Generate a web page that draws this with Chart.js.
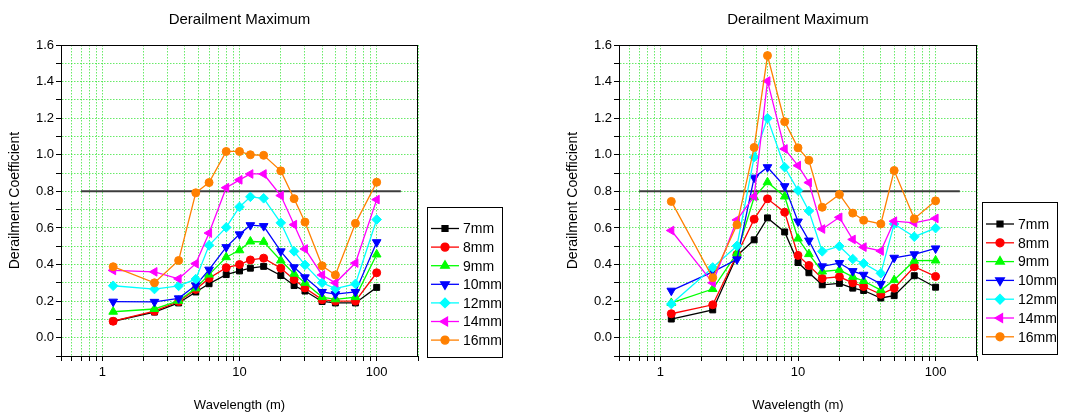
<!DOCTYPE html>
<html>
<head>
<meta charset="utf-8">
<script src="https://cdn.jsdelivr.net/npm/chart.js@4.4.1/dist/chart.umd.min.js"></script>
<style>
  html, body { margin: 0; padding: 0; background: #fff; }
  #wrap { position: relative; width: 1084px; height: 416px; }
  #left { position: absolute; left: 0; top: 0; }
  #right { position: absolute; left: 540px; top: 0; }
</style>
</head>
<body>
<div id="wrap">
  <canvas id="left" width="540" height="416"></canvas>
  <canvas id="right" width="544" height="416"></canvas>
</div>
<script>
// wavelengths (m) used by every series
const wavelengths = [1.2, 2.4, 3.6, 4.8, 6, 8, 10, 12, 15, 20, 25, 30, 40, 50, 70, 100];
const sizes = ['7mm', '8mm', '9mm', '10mm', '12mm', '14mm', '16mm'];

const xTickValues = [0.5, 0.6, 0.7, 0.8, 0.9, 1, 2, 3, 4, 5, 6, 7, 8, 9, 10,
                     20, 30, 40, 50, 60, 70, 80, 90, 100, 200];
const xTickLabels = [1, 10, 100];
const yTickValues = [-0.1, 0, 0.1, 0.2, 0.3, 0.4, 0.5, 0.6, 0.7, 0.8, 0.9,
                     1.0, 1.1, 1.2, 1.3, 1.4, 1.5, 1.6];

// limit line
const limitValue = 0.8;
const limitSpan = [0.7, 150];

// left graph
const left7  = [0.09, 0.14, 0.19, 0.25, 0.295, 0.345, 0.365, 0.38, 0.39, 0.34, 0.285, 0.255, 0.198, 0.19, 0.19, 0.275];
const left8  = [0.09, 0.145, 0.198, 0.264, 0.325, 0.383, 0.40, 0.425, 0.435, 0.38, 0.318, 0.272, 0.208, 0.20, 0.20, 0.355];
const left9  = [0.142, 0.157, 0.202, 0.27, 0.345, 0.44, 0.478, 0.526, 0.524, 0.422, 0.35, 0.30, 0.222, 0.21, 0.222, 0.455];
const left10 = [0.197, 0.196, 0.215, 0.286, 0.372, 0.495, 0.565, 0.615, 0.61, 0.472, 0.385, 0.33, 0.25, 0.238, 0.25, 0.522];
const left12 = [0.284, 0.266, 0.283, 0.32, 0.505, 0.603, 0.715, 0.77, 0.762, 0.628, 0.472, 0.398, 0.30, 0.268, 0.294, 0.646];
const left14 = [0.368, 0.36, 0.322, 0.405, 0.572, 0.82, 0.863, 0.895, 0.895, 0.777, 0.618, 0.485, 0.343, 0.30, 0.408, 0.755];
const left16 = [0.388, 0.30, 0.422, 0.792, 0.848, 1.018, 1.018, 1.0, 0.997, 0.912, 0.76, 0.632, 0.393, 0.343, 0.625, 0.85];

// right graph
const right7  = [0.102, 0.152, 0.448, 0.535, 0.655, 0.578, 0.411, 0.355, 0.289, 0.297, 0.271, 0.258, 0.217, 0.23, 0.339, 0.276];
const right8  = [0.131, 0.18, 0.455, 0.648, 0.759, 0.686, 0.45, 0.395, 0.324, 0.333, 0.30, 0.28, 0.237, 0.271, 0.388, 0.335];
const right9  = [0.19, 0.266, 0.462, 0.768, 0.85, 0.772, 0.542, 0.457, 0.362, 0.371, 0.333, 0.31, 0.26, 0.315, 0.421, 0.422];
const right10 = [0.257, 0.36, 0.428, 0.875, 0.932, 0.828, 0.635, 0.531, 0.39, 0.408, 0.364, 0.344, 0.294, 0.437, 0.456, 0.488];
const right12 = [0.184, 0.384, 0.502, 0.987, 1.2, 0.932, 0.805, 0.693, 0.472, 0.5, 0.43, 0.406, 0.352, 0.622, 0.552, 0.599];
const right14 = [0.586, 0.30, 0.644, 0.772, 1.403, 1.032, 0.941, 0.848, 0.594, 0.658, 0.537, 0.495, 0.474, 0.637, 0.628, 0.652];
const right16 = [0.745, 0.328, 0.617, 1.04, 1.542, 1.181, 1.038, 0.97, 0.713, 0.783, 0.681, 0.642, 0.622, 0.914, 0.65, 0.748];

const lineColors = ['#000000', '#ff0000', '#00ff00', '#0000ff', '#00ffff', '#ff00ff', '#ff8000'];
const markers = ['rect', 'circle', 'triangle', 'triangle', 'rectRot', 'triangle', 'circle'];
const markerTurns = [0, 0, 0, 180, 0, 270, 0];
const markerRadius = [4.2, 4, 5, 5, 4.8, 5, 4];
const gridGreen = 'rgba(40, 225, 40, 0.7)';

Chart.defaults.font.family = '"Liberation Sans", Arial, sans-serif';
Chart.defaults.color = '#000';

const frame = {
    id: 'frame',
    afterDraw(chart) {
        const { ctx, chartArea: { left, top, right, bottom } } = chart;
        const x0 = Math.round(left) + 0.5, y0 = Math.round(top) + 0.5;
        const x1 = Math.round(right) - 0.5, y1 = Math.round(bottom) + 0.5;
        ctx.save();
        ctx.strokeStyle = '#000';
        ctx.lineWidth = 1;
        ctx.strokeRect(x0, y0, x1 - x0, y1 - y0);
        ctx.restore();
    }
};

const boxLegend = {
    id: 'boxLegend',
    afterDraw(chart, args, opts) {
        const ctx = chart.ctx;
        ctx.save();
        ctx.beginPath();
        ctx.rect(opts.x, opts.y, opts.w, opts.h);
        ctx.clip();
        ctx.font = '14px "Liberation Sans", Arial, sans-serif';
        ctx.textBaseline = 'middle';
        chart.data.datasets.slice(0, sizes.length).forEach((ds, i) => {
            const y = opts.first + i * opts.step;
            ctx.strokeStyle = ds.borderColor;
            ctx.lineWidth = 1.3;
            ctx.beginPath();
            ctx.moveTo(opts.x + 4, y);
            ctx.lineTo(opts.x + 32, y);
            ctx.stroke();
            ctx.fillStyle = ds.borderColor;
            Chart.helpers.drawPoint(ctx, {
                pointStyle: ds.pointStyle, radius: ds.pointRadius,
                rotation: ds.pointRotation, borderWidth: 1
            }, opts.x + 18, y);
            ctx.fillStyle = '#000';
            ctx.fillText(ds.label, opts.x + 36, y + 1);
        });
        ctx.restore();
        ctx.save();
        ctx.strokeStyle = '#000';
        ctx.lineWidth = 1;
        ctx.strokeRect(opts.x + 0.5, opts.y + 0.5, opts.w, opts.h);
        ctx.restore();
    }
};

function axisGrid() {
    return { color: gridGreen, tickColor: '#000', tickLength: 5, tickBorderDash: [] };
}

function buildChart(id, series, pad, legendBox) {
    const datasets = series.map((vals, i) => ({
        label: sizes[i],
        data: wavelengths.map((w, k) => ({ x: w, y: vals[k] })),
        borderColor: lineColors[i],
        backgroundColor: lineColors[i],
        pointBackgroundColor: lineColors[i],
        pointBorderColor: lineColors[i],
        pointStyle: markers[i],
        pointRotation: markerTurns[i],
        pointRadius: markerRadius[i],
        pointBorderWidth: 1,
        borderWidth: 1.3,
        tension: 0,
        order: sizes.length - i
    }));
    datasets.push({
        label: 'limit',
        data: limitSpan.map(x => ({ x: x, y: limitValue })),
        borderColor: '#3c3c3c',
        borderWidth: 2,
        pointRadius: 0,
        order: 99
    });

    return new Chart(document.getElementById(id), {
        type: 'line',
        data: { datasets: datasets },
        options: {
            responsive: false,
            animation: false,
            layout: { padding: { left: pad.left, right: pad.right, top: 0, bottom: 0 } },
            plugins: {
                legend: { display: false },
                tooltip: { enabled: false },
                title: {
                    display: true, text: 'Derailment Maximum', fullSize: false,
                    font: { size: 15, weight: 'normal' }, color: '#000',
                    padding: { top: 11, bottom: 16 }
                },
                boxLegend: legendBox
            },
            scales: {
                x: {
                    type: 'logarithmic', min: 0.5, max: 200,
                    afterBuildTicks: s => { s.ticks = xTickValues.map(v => ({ value: v })); },
                    afterFit: s => { s.height = 60; },
                    ticks: {
                        autoSkip: false, maxRotation: 0, minRotation: 0, padding: 4,
                        font: { size: 13 }, color: '#000',
                        callback: v => xTickLabels.includes(v) ? String(v) : ''
                    },
                    grid: axisGrid(),
                    border: { color: '#000', width: 1, dash: [1.5, 1.5] },
                    title: {
                        display: true, text: 'Wavelength (m)', font: { size: 13 }, color: '#000',
                        padding: { top: 0, bottom: 3 }
                    }
                },
                y: {
                    min: -0.1, max: 1.6,
                    afterBuildTicks: s => { s.ticks = yTickValues.map(v => ({ value: v })); },
                    afterFit: s => { s.width = 61; },
                    ticks: {
                        autoSkip: false, padding: 2, font: { size: 13 }, color: '#000',
                        callback: v => Math.round(v * 10) % 2 === 0 ? v.toFixed(1) : ''
                    },
                    grid: axisGrid(),
                    border: { color: '#000', width: 1, dash: [1.5, 1.5] },
                    title: {
                        display: true, text: 'Derailment Coefficient', font: { size: 14 }, color: '#000',
                        padding: { top: 7, bottom: 0 }
                    }
                }
            }
        },
        plugins: [frame, boxLegend]
    });
}

buildChart('left', [left7, left8, left9, left10, left12, left14, left16],
    { left: 0, right: 122 },
    { x: 427, y: 207, w: 75, h: 150, first: 228.5, step: 18.6 });

buildChart('right', [right7, right8, right9, right10, right12, right14, right16],
    { left: 18, right: 107 },
    { x: 442, y: 202, w: 75, h: 152, first: 224, step: 18.8 });
</script>
</body>
</html>
